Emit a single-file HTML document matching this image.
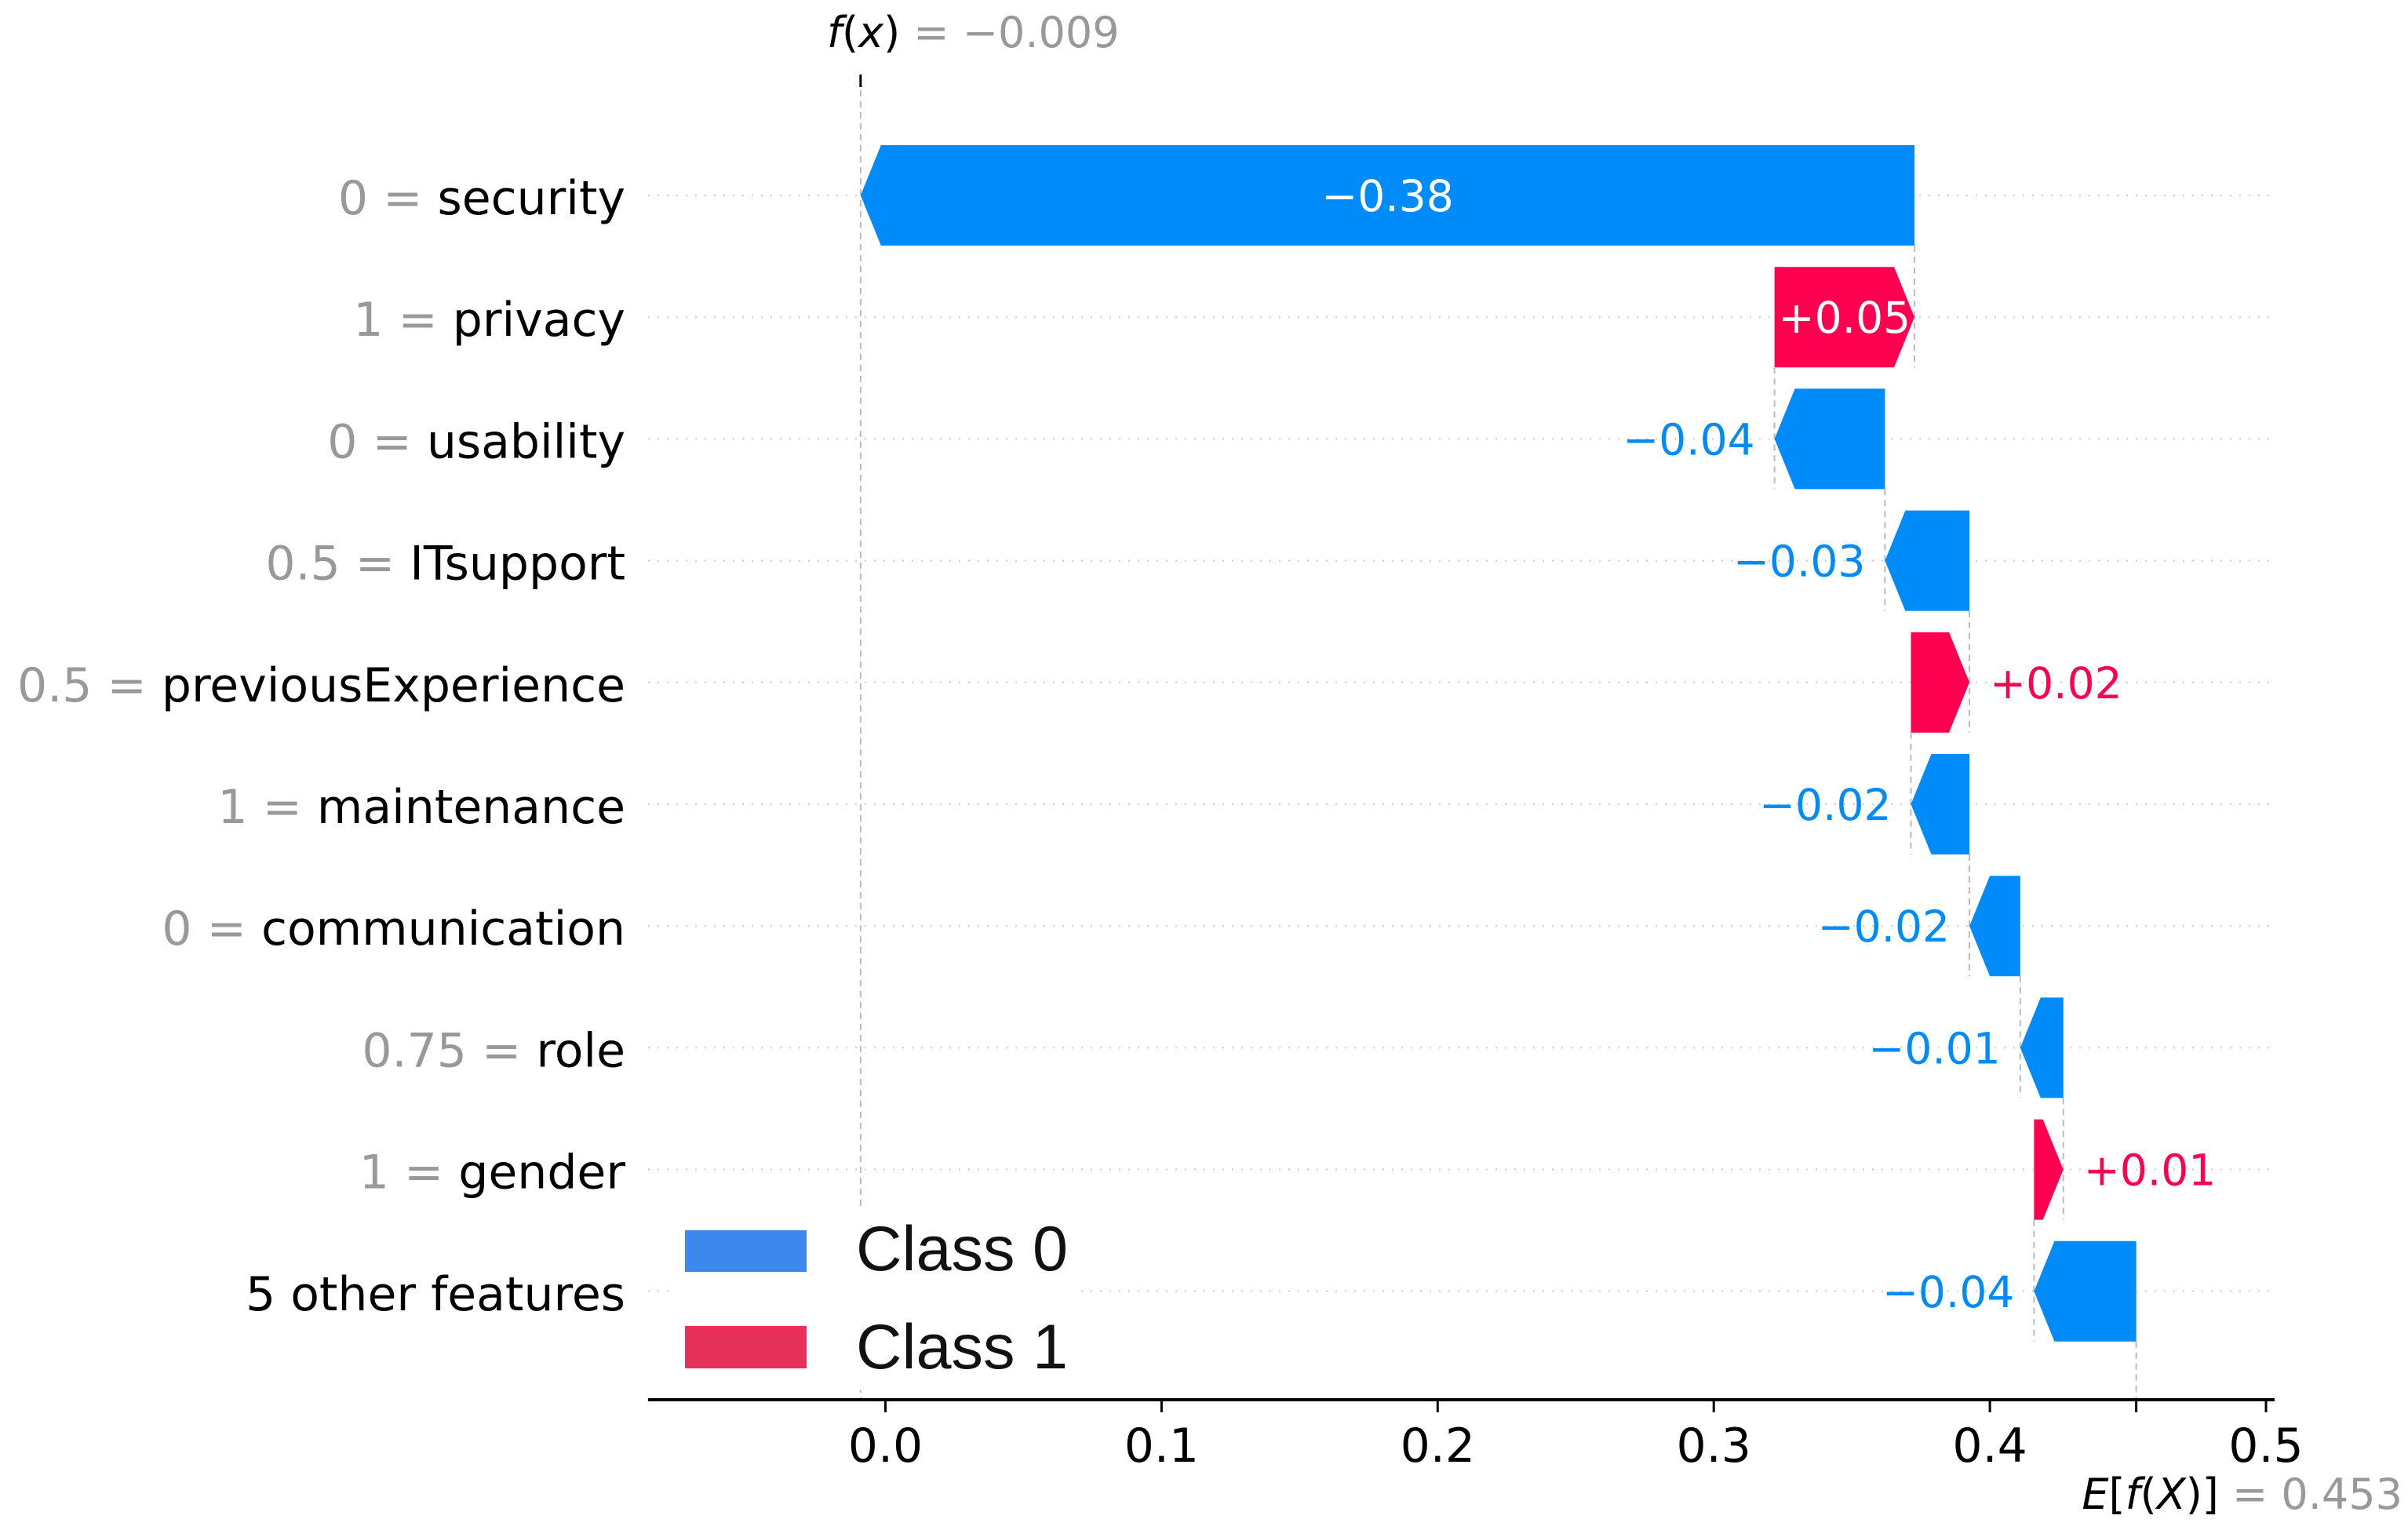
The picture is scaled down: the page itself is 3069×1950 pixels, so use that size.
<!DOCTYPE html>
<html><head><meta charset="utf-8"><style>
html,body{margin:0;padding:0;background:#fff;}
svg{display:block;font-family:"DejaVu Sans","Liberation Sans",sans-serif;}
</style></head><body>
<svg id="chart" width="3069" height="1950" viewBox="0 0 3069 1950"></svg>
<script>
const featureNames=["security","privacy","usability","ITsupport","previousExperience","maintenance","communication","role","gender","5 other features"];
const featureValues=["0","1","0","0.5","0.5","1","0","0.75","1",""];
const shapValues=[-0.3817,0.0507,-0.0400,-0.0306,0.0212,-0.0212,-0.0184,-0.0156,0.0106,-0.0370];
const valueLabels=["\u22120.38","+0.05","\u22120.04","\u22120.03","+0.02","\u22120.02","\u22120.02","\u22120.01","+0.01","\u22120.04"];
const baseValue=0.453;
const fxValue=-0.009;
const xTicks=[0.0,0.1,0.2,0.3,0.4,0.5];
const xTickLabels=["0.0","0.1","0.2","0.3","0.4","0.5"];

const NS="http://www.w3.org/2000/svg";
const svg=document.getElementById('chart');
const X0=1128.5, PX=3519;
function xs(v){return X0+v*PX;}
const ROW0=249, ROWH=155.2, BARH=128, HEAD=26;
function ys(i){return ROW0+i*ROWH;}
const BLUE="#008bfb", RED="#ff0051";
const AXY=1784, AXL=826, AXR=2899;
function el(tag,attrs,parent){const e=document.createElementNS(NS,tag);for(const k in attrs)e.setAttribute(k,attrs[k]);(parent||svg).appendChild(e);return e;}

const n=featureNames.length;
const ends=new Array(n), starts=new Array(n);
let cur=baseValue;
for(let i=n-1;i>=0;i--){starts[i]=cur;cur=cur+shapValues[i];ends[i]=cur;}

for(let i=0;i<n;i++){
  const g=el('line',{x1:AXL,x2:AXR,y1:ys(i),y2:ys(i),stroke:"#cccccc","stroke-width":2,"stroke-dasharray":"2,10"});
  
  
}
const fl=el('line',{x1:xs(fxValue),x2:xs(fxValue),y1:115,y2:AXY,stroke:"#bbbbbb","stroke-width":2,"stroke-dasharray":"8,6"});


const ft=el('line',{x1:xs(fxValue),x2:xs(fxValue),y1:95,y2:111,stroke:"#000","stroke-width":3});


for(let i=1;i<n;i++){
  const x=xs(ends[i]);
  const c=el('line',{x1:x,x2:x,y1:ys(i-1)+BARH/2,y2:ys(i)+BARH/2,stroke:"#bbbbbb","stroke-width":2,"stroke-dasharray":"8,6"});
  
  
}
const el2=el('line',{x1:xs(baseValue),x2:xs(baseValue),y1:ys(n-1)+BARH/2,y2:AXY,stroke:"#bbbbbb","stroke-width":2,"stroke-dasharray":"8,6"});



for(let i=0;i<n;i++){
  const s=xs(starts[i]), e=xs(ends[i]);
  const w=Math.abs(e-s), h=Math.min(HEAD,w);
  const yt=ys(i)-BARH/2, yb=ys(i)+BARH/2, yc=ys(i);
  let pts;
  if(shapValues[i]<0){pts=[[s,yt],[e+h,yt],[e,yc],[e+h,yb],[s,yb]];}
  else{pts=[[s,yt],[e-h,yt],[e,yc],[e-h,yb],[s,yb]];}
  const p=el('polygon',{points:pts.map(q=>q.join(',')).join(' '),fill:shapValues[i]<0?BLUE:RED});
  
  
  const fs=55;
  const tw=valueLabels[i].length*0.61*fs;
  let t;
  if(tw<w-6){
    t=el('text',{x:(s+e)/2,y:yc+20,"font-size":fs,fill:"#fff","text-anchor":"middle"});
  }else if(shapValues[i]<0){
    t=el('text',{x:e-25,y:yc+20,"font-size":fs,fill:BLUE,"text-anchor":"end"});
  }else{
    t=el('text',{x:e+26,y:yc+20,"font-size":fs,fill:RED,"text-anchor":"start"});
  }
  t.textContent=valueLabels[i];
  
  
  const fl2=el('text',{x:797,y:yc+24,"font-size":60,"text-anchor":"end",fill:"#000"});
  if(featureValues[i]!==""){
    const ts=el('tspan',{fill:"#999999"},fl2);ts.textContent=featureValues[i]+" = ";
    const tn=el('tspan',{},fl2);tn.textContent=featureNames[i];
  } else { fl2.textContent=featureNames[i]; }
  
  
}

const lg=el('g',{});


el('rect',{x:860,y:1540,width:510,height:232,fill:"#fff"},lg);
const lp0=el('rect',{x:873,y:1568,width:155,height:53,fill:"#3d88ec"},lg);


const lt0=el('text',{x:1091,y:1619,"font-size":81,"font-family":"Liberation Sans, sans-serif",fill:"#111"},lg);lt0.textContent="Class 0";


const lp1=el('rect',{x:873,y:1690,width:155,height:54,fill:"#e8315a"},lg);


const lt1=el('text',{x:1091,y:1744,"font-size":81,"font-family":"Liberation Sans, sans-serif",fill:"#111"},lg);lt1.textContent="Class 1";



const ax=el('line',{x1:AXL,x2:AXR,y1:AXY,y2:AXY,stroke:"#000","stroke-width":4});


for(let k=0;k<xTicks.length;k++){
  const x=xs(xTicks[k]);
  const tk=el('line',{x1:x,x2:x,y1:AXY,y2:AXY+16,stroke:"#000","stroke-width":3});
  
  
  const tl=el('text',{x:x,y:1863,"font-size":60,"text-anchor":"middle",fill:"#000"});
  tl.textContent=xTickLabels[k];
  
  
}
const et=el('line',{x1:xs(baseValue),x2:xs(baseValue),y1:AXY,y2:AXY+16,stroke:"#000","stroke-width":3});



const fxt=el('text',{x:1054,y:60,"font-size":54,fill:"#000"});


const a1=el('tspan',{"font-style":"italic"},fxt);a1.textContent="f";
const a2=el('tspan',{},fxt);a2.textContent="(";
const a3=el('tspan',{"font-style":"italic"},fxt);a3.textContent="x";
const a4=el('tspan',{},fxt);a4.textContent=")";
const a5=el('tspan',{fill:"#999999"},fxt);a5.textContent=" = \u22120.009";

const ext=el('text',{x:3062,y:1923,"font-size":54,fill:"#000","text-anchor":"end"});


const b1=el('tspan',{"font-style":"italic"},ext);b1.textContent="E";
const b2=el('tspan',{},ext);b2.textContent="[";
const b3=el('tspan',{"font-style":"italic"},ext);b3.textContent="f";
const b4=el('tspan',{},ext);b4.textContent="(";
const b5=el('tspan',{"font-style":"italic"},ext);b5.textContent="X";
const b6=el('tspan',{},ext);b6.textContent=")]";
const b7=el('tspan',{fill:"#999999"},ext);b7.textContent=" = 0.453";
</script>
</body></html>
